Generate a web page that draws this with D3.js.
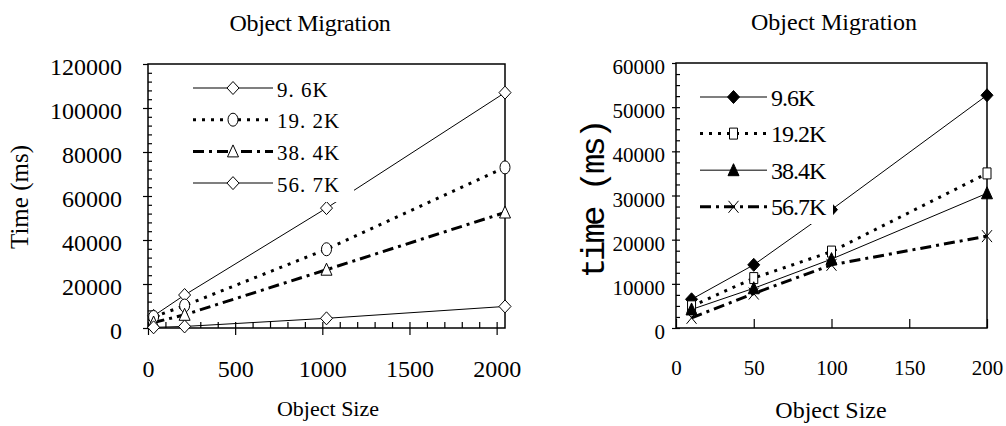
<!DOCTYPE html>
<html>
<head>
<meta charset="utf-8">
<script src="https://cdn.jsdelivr.net/npm/d3@7"></script>
<style>
  body { margin: 0; background: #fff; }
  svg { display: block; }
</style>
</head>
<body>
<div id="chart"></div>
<script>
// ---- data ----
const leftSizes = [32, 210, 1024, 2048];
const leftTime96 = [5500, 15000, 54500, 107000];
const leftTime192 = [5000, 10200, 35800, 73000];
const leftTime384 = [2500, 6000, 26500, 52500];
const leftTime567 = [300, 700, 4400, 9800];
const leftLabels = ["9. 6K", "19. 2K", "38. 4K", "56. 7K"];
const leftXTicks = [0, 500, 1000, 1500, 2000];
const leftYTicks = [0, 20000, 40000, 60000, 80000, 100000, 120000];

const rightSizes = [10, 50, 100, 200];
const rightTime96 = [6500, 14300, 26800, 52700];
const rightTime192 = [4900, 11300, 17300, 35000];
const rightTime384 = [4200, 9000, 15600, 30500];
const rightTime567 = [2300, 7800, 14300, 20800];
const rightLabels = ["9.6K", "19.2K", "38.4K", "56.7K"];
const rightXTicks = [0, 50, 100, 150, 200];
const rightYTicks = [0, 10000, 20000, 30000, 40000, 50000, 60000];

const serif = "'Liberation Serif', 'Times New Roman', serif";

// marker shapes
const markerPaths = {
    diamond: "M0,-6.5L6,0L0,6.5L-6,0Z",
    circle: "M-5,0A5,6.5 0 1,0 5,0A5,6.5 0 1,0 -5,0Z",
    triangle: "M0,-6.5L5.5,5.5L-5.5,5.5Z",
    square: "M-4,-5.5H4V5.5H-4Z",
    cross: "M-5,-6L5,6M5,-6L-5,6"
};

const svg = d3.select("#chart")
    .append("svg")
    .attr("width", 1006)
    .attr("height", 426);

function drawPanel(cfg) {
    const g = svg.append("g");

    const x = d3.scaleLinear().domain(cfg.xDomain).range(cfg.xRange);
    const y = d3.scaleLinear().domain(cfg.yDomain).range(cfg.yRange);
    const [x0, x1] = cfg.xRange;
    const [y0, y1] = cfg.yRange;

    // y axis: major ticks crossing, labels on the left
    g.append("g")
        .attr("transform", `translate(${x0},0)`)
        .call(d3.axisLeft(y).tickValues(cfg.yTicks).tickSize(cfg.yOut).tickPadding(cfg.yPad).tickFormat(d3.format("d")))
        .call(a => a.select(".domain").remove())
        .call(a => a.selectAll("line").attr("stroke", "#000").attr("stroke-width", 1.2))
        .call(a => a.selectAll("text")
            .style("font-family", serif)
            .style("font-size", cfg.tickFont)
            .attr("fill", "#000")
            .attr("dy", cfg.yDy));

    // y axis inner ticks (major + minor)
    g.append("g")
        .attr("transform", `translate(${x0},0)`)
        .call(d3.axisRight(y).tickValues(d3.range(cfg.yDomain[0], cfg.yDomain[1], cfg.yMinorStep)).tickSize(4).tickFormat(""))
        .call(a => a.select(".domain").remove())
        .call(a => a.selectAll("line").attr("stroke", "#000").attr("stroke-width", 1.2));

    // x axis: labels and outer major ticks
    g.append("g")
        .attr("transform", `translate(0,${y0})`)
        .call(d3.axisBottom(x).tickValues(cfg.xTicks).tickSize(cfg.xOut).tickPadding(cfg.xPad).tickFormat(d3.format("d")))
        .call(a => a.select(".domain").remove())
        .call(a => a.selectAll("line").attr("stroke", "#000").attr("stroke-width", 1.2))
        .call(a => a.selectAll("text")
            .style("font-family", serif)
            .style("font-size", cfg.tickFont)
            .attr("fill", "#000"));

    // x axis inner ticks
    g.append("g")
        .attr("transform", `translate(0,${y0})`)
        .call(d3.axisTop(x).tickValues(cfg.xInner).tickSize(cfg.xInSize).tickFormat(""))
        .call(a => a.select(".domain").remove())
        .call(a => a.selectAll("line").attr("stroke", "#000").attr("stroke-width", 1.2));

    // plot frame
    g.append("rect")
        .attr("x", x0)
        .attr("y", y1)
        .attr("width", x1 - x0)
        .attr("height", y0 - y1)
        .attr("fill", "none")
        .attr("stroke", "#000")
        .attr("stroke-width", 1.5);

    const line = d3.line()
        .x((d, i) => x(cfg.sizes[i]))
        .y(d => y(d));

    // series lines
    cfg.series.forEach(s => {
        g.append("path")
            .datum(s.values)
            .attr("d", line)
            .attr("fill", "none")
            .attr("stroke", "#000")
            .attr("stroke-width", s.width)
            .attr("stroke-dasharray", s.dash);
    });

    // series markers
    cfg.series.forEach(s => {
        g.selectAll(null)
            .data(s.values)
            .enter()
            .append("path")
            .attr("transform", (d, i) => `translate(${x(cfg.sizes[i])},${y(d)})`)
            .attr("d", markerPaths[s.marker])
            .attr("fill", s.marker === "cross" ? "none" : (s.filled ? "#000" : "#fff"))
            .attr("stroke", "#000")
            .attr("stroke-width", 1);
    });

    // legend with white background
    const lg = cfg.legend;
    g.append("rect")
        .attr("x", lg.box[0])
        .attr("y", lg.box[1])
        .attr("width", lg.box[2])
        .attr("height", lg.box[3])
        .attr("fill", "#fff");

    cfg.series.forEach((s, i) => {
        const ry = lg.top + i * lg.step;
        g.append("line")
            .attr("x1", lg.x1)
            .attr("x2", lg.x2)
            .attr("y1", ry)
            .attr("y2", ry)
            .attr("stroke", s.dash ? "#000" : "#555")
            .attr("stroke-width", s.dash ? s.width : 1.5)
            .attr("stroke-dasharray", s.dash);
        g.append("path")
            .attr("transform", `translate(${(lg.x1 + lg.x2) / 2},${ry})`)
            .attr("d", markerPaths[s.marker])
            .attr("fill", s.marker === "cross" ? "none" : (s.filled ? "#000" : "#fff"))
            .attr("stroke", "#000")
            .attr("stroke-width", 1);
        g.append("text")
            .attr("x", lg.x2 + 4)
            .attr("y", ry + lg.dy)
            .style("font-family", serif)
            .style("font-size", lg.font)
            .style("letter-spacing", lg.spacing)
            .text(s.label);
    });

    // titles
    g.append("text")
        .attr("x", cfg.title.x)
        .attr("y", cfg.title.y)
        .attr("text-anchor", "middle")
        .style("font-family", serif)
        .style("font-size", cfg.title.font)
        .style("letter-spacing", cfg.title.spacing)
        .text("Object Migration");

    g.append("text")
        .attr("x", cfg.xLabel.x)
        .attr("y", cfg.xLabel.y)
        .attr("text-anchor", "middle")
        .style("font-family", serif)
        .style("font-size", cfg.xLabel.font)
        .style("letter-spacing", cfg.xLabel.spacing)
        .text("Object Size");

    g.append("text")
        .attr("transform", `translate(${cfg.yLabel.x},${cfg.yLabel.y}) rotate(-90)`)
        .attr("text-anchor", "middle")
        .style("font-family", cfg.yLabel.family)
        .style("font-size", cfg.yLabel.font)
        .style("letter-spacing", cfg.yLabel.spacing)
        .text(cfg.yLabel.text);
}

// left chart
drawPanel({
    xDomain: [0, 2048], xRange: [148, 505],
    yDomain: [0, 120000], yRange: [328, 64],
    xTicks: leftXTicks, yTicks: leftYTicks,
    xInner: d3.range(0, 2001, 100), xInSize: 6,
    yMinorStep: 4000,
    yOut: 5, yPad: 21, yDy: "0.45em",
    xOut: 7, xPad: 25,
    tickFont: "24px",
    sizes: leftSizes,
    series: [
        { values: leftTime96, marker: "diamond", filled: false, dash: null, width: 1, label: leftLabels[0] },
        { values: leftTime192, marker: "circle", filled: false, dash: "3,6", width: 3, label: leftLabels[1] },
        { values: leftTime384, marker: "triangle", filled: false, dash: "11,5,3,5", width: 3, label: leftLabels[2] },
        { values: leftTime567, marker: "diamond", filled: false, dash: null, width: 1, label: leftLabels[3] }
    ],
    legend: { box: [186, 70, 168, 132], x1: 193, x2: 273, top: 88, step: 31.7, dy: 8.5, font: "21px", spacing: "1px" },
    title: { x: 310, y: 31, font: "24px", spacing: "-0.3px" },
    xLabel: { x: 328, y: 416, font: "22px", spacing: "0px" },
    yLabel: { x: 28, y: 197, text: "Time (ms)", family: serif, font: "25px", spacing: "0px" }
});

// right chart
drawPanel({
    xDomain: [0, 200], xRange: [676, 987],
    yDomain: [0, 60000], yRange: [328, 63],
    xTicks: rightXTicks, yTicks: rightYTicks,
    xInner: rightXTicks, xInSize: 9,
    yMinorStep: 2500,
    yOut: 4, yPad: 7, yDy: "0.5em",
    xOut: 0, xPad: 32,
    tickFont: "21px",
    sizes: rightSizes,
    series: [
        { values: rightTime96, marker: "diamond", filled: true, dash: null, width: 1, label: rightLabels[0] },
        { values: rightTime192, marker: "square", filled: false, dash: "3,6", width: 3, label: rightLabels[1] },
        { values: rightTime384, marker: "triangle", filled: true, dash: null, width: 1, label: rightLabels[2] },
        { values: rightTime567, marker: "cross", filled: false, dash: "11,5,3,5", width: 3, label: rightLabels[3] }
    ],
    legend: { box: [688, 74, 145, 150], x1: 700, x2: 767, top: 97, step: 36.6, dy: 8.5, font: "24px", spacing: "-1px" },
    title: { x: 834, y: 30, font: "24px", spacing: "0px" },
    xLabel: { x: 831, y: 418, font: "24px", spacing: "0px" },
    yLabel: { x: 604, y: 200, text: "time (ms)", family: "'Liberation Mono', monospace", font: "34px", spacing: "-3px" }
});
</script>
</body>
</html>
